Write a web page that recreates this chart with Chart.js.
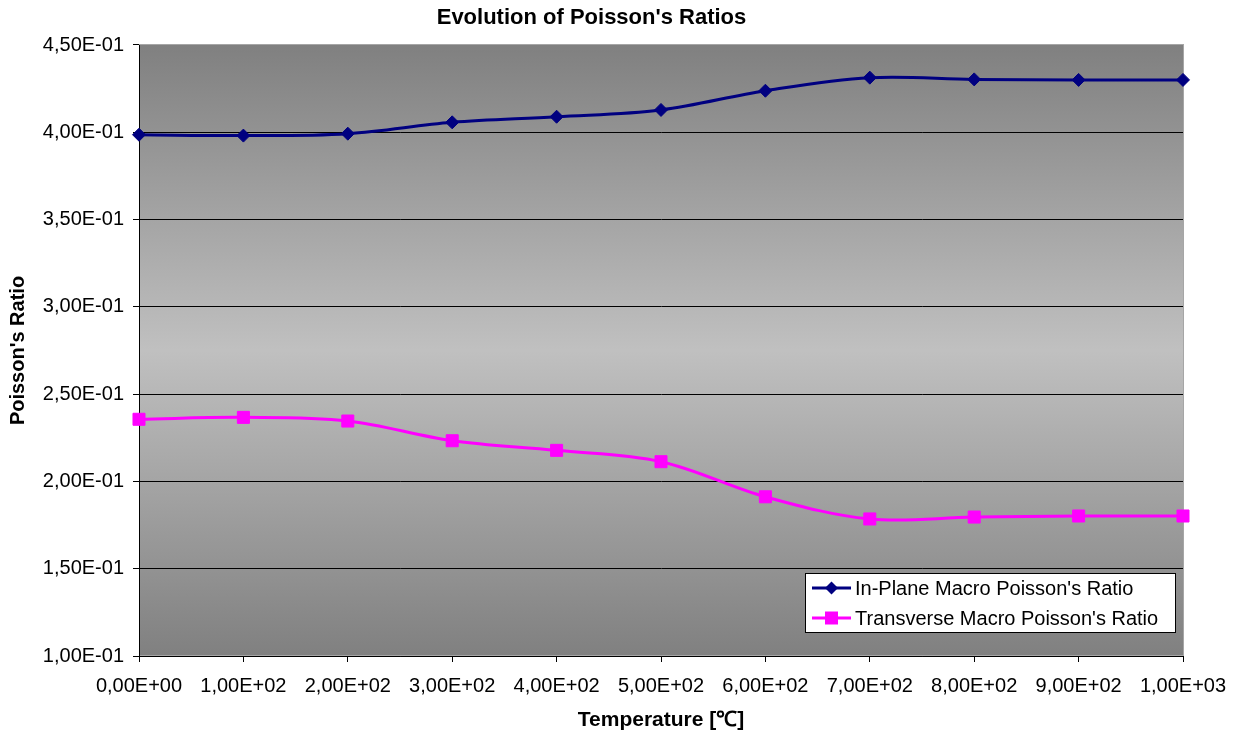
<!DOCTYPE html>
<html>
<head>
<meta charset="utf-8">
<script src="https://cdn.jsdelivr.net/npm/chart.js@4.4.1/dist/chart.umd.min.js"></script>
<style>
  body { margin: 0; background: #fff; }
  #wrap { width: 1240px; height: 736px; }
</style>
</head>
<body>
<div id="wrap"><canvas id="myChart" width="1240" height="736"></canvas></div>
<script>
const temperatures = [0, 100, 200, 300, 400, 500, 600, 700, 800, 900, 1000];
const inPlaneRatio = [0.3986, 0.3981, 0.3992, 0.4057, 0.4089, 0.4128, 0.4238, 0.4313, 0.4303, 0.4300, 0.4300];
const transverseRatio = [0.2356, 0.2367, 0.2346, 0.2233, 0.2178, 0.2113, 0.1912, 0.1785, 0.1796, 0.1802, 0.1802];
const xTickLabels = ["0,00E+00", "1,00E+02", "2,00E+02", "3,00E+02", "4,00E+02", "5,00E+02",
  "6,00E+02", "7,00E+02", "8,00E+02", "9,00E+02", "1,00E+03"];
const yTickLabels = ["1,00E-01", "1,50E-01", "2,00E-01", "2,50E-01", "3,00E-01", "3,50E-01", "4,00E-01", "4,50E-01"];

const fontFamily = "'Liberation Sans', Arial, sans-serif";
const inPlaneColor = "#000080";
const transverseColor = "#FF00FF";

function toPoints(values) {
  return temperatures.map(function (t, i) {
    return { x: t, y: values[i] };
  });
}

// gray gradient behind the plot area
const plotBackground = {
  id: "plotBackground",
  beforeDraw(chart) {
    const { ctx, chartArea } = chart;
    const g = ctx.createLinearGradient(0, chartArea.top, 0, chartArea.bottom);
    g.addColorStop(0, "#808080");
    g.addColorStop(0.5, "#c0c0c0");
    g.addColorStop(1, "#808080");
    ctx.save();
    ctx.fillStyle = g;
    ctx.fillRect(chartArea.left, chartArea.top, chartArea.right - chartArea.left, chartArea.bottom - chartArea.top);
    ctx.strokeStyle = "#a6a6a6";
    ctx.lineWidth = 1;
    ctx.strokeRect(chartArea.left + 0.5, chartArea.top - 0.5, chartArea.right - chartArea.left, chartArea.bottom - chartArea.top);
    ctx.restore();
  }
};

function drawMarker(ctx, style, x, y, color) {
  ctx.fillStyle = color;
  ctx.beginPath();
  if (style === "rectRot") {
    ctx.moveTo(x, y - 6.5);
    ctx.lineTo(x + 6.5, y);
    ctx.lineTo(x, y + 6.5);
    ctx.lineTo(x - 6.5, y);
    ctx.closePath();
  } else {
    ctx.rect(x - 6.5, y - 6.5, 13, 13);
  }
  ctx.fill();
}

// boxed legend inside the plot, bottom right
const boxLegend = {
  id: "boxLegend",
  afterDraw(chart) {
    const ctx = chart.ctx;
    const left = 805, top = 573, width = 370, height = 59;
    ctx.save();
    ctx.fillStyle = "#ffffff";
    ctx.fillRect(left, top, width, height);
    ctx.strokeStyle = "#000000";
    ctx.lineWidth = 1;
    ctx.strokeRect(left + 0.5, top + 0.5, width, height);
    ctx.font = "20px " + fontFamily;
    ctx.textBaseline = "middle";
    chart.data.datasets.forEach(function (ds, i) {
      const y = top + 15 + i * 30;
      ctx.strokeStyle = ds.borderColor;
      ctx.lineWidth = 3;
      ctx.beginPath();
      ctx.moveTo(812, y);
      ctx.lineTo(851, y);
      ctx.stroke();
      drawMarker(ctx, ds.pointStyle, 831.5, y, ds.borderColor);
      ctx.fillStyle = "#000000";
      ctx.fillText(ds.label, 855, y + 1);
    });
    ctx.restore();
  }
};

const ctx = document.getElementById("myChart").getContext("2d");
const myChart = new Chart(ctx, {
  type: "line",
  data: {
    datasets: [
      {
        label: "In-Plane Macro Poisson's Ratio",
        data: toPoints(inPlaneRatio),
        borderColor: inPlaneColor,
        backgroundColor: inPlaneColor,
        borderWidth: 3,
        pointStyle: "rectRot",
        pointRadius: 6.5,
        pointBorderWidth: 1,
        tension: 0.35,
        clip: false
      },
      {
        label: "Transverse Macro Poisson's Ratio",
        data: toPoints(transverseRatio),
        borderColor: transverseColor,
        backgroundColor: transverseColor,
        borderWidth: 3,
        pointStyle: "rect",
        pointRadius: 8.5,
        pointBorderWidth: 1,
        tension: 0.35,
        clip: false
      }
    ]
  },
  options: {
    responsive: false,
    animation: false,
    devicePixelRatio: 1,
    layout: { padding: { left: 0, right: 57, top: 0, bottom: 0 } },
    plugins: {
      legend: { display: false },
      tooltip: { enabled: false },
      title: {
        display: true,
        text: "Evolution of Poisson's Ratios",
        color: "#000",
        font: { family: fontFamily, size: 22, weight: "bold" },
        padding: { top: 5, bottom: 13.6 }
      }
    },
    scales: {
      x: {
        type: "linear",
        min: 0,
        max: 1000,
        afterFit(scale) { scale.height = 80; },
        afterBuildTicks(scale) {
          scale.ticks = temperatures.map(function (t) { return { value: t }; });
        },
        ticks: {
          color: "#000",
          font: { family: fontFamily, size: 20 },
          padding: 12,
          maxRotation: 0,
          autoSkip: false,
          callback: function (value, index) { return xTickLabels[index]; }
        },
        grid: { drawOnChartArea: false, drawTicks: true, tickLength: 6, tickColor: "#000" },
        border: { color: "#000", width: 1 },
        title: {
          display: true,
          text: "Temperature [℃]",
          color: "#000",
          font: { family: fontFamily, size: 21, weight: "bold" },
          padding: { top: 0, bottom: 3.5 }
        }
      },
      y: {
        min: 0.1,
        max: 0.45,
        afterFit(scale) { scale.width = 139; },
        afterBuildTicks(scale) {
          scale.ticks = yTickLabels.map(function (l, i) { return { value: 0.1 + i * 0.05 }; });
        },
        ticks: {
          color: "#000",
          font: { family: fontFamily, size: 20 },
          padding: 9,
          callback: function (value, index) { return yTickLabels[index]; }
        },
        grid: {
          color: function (c) { return c.index === yTickLabels.length - 1 ? "rgba(0,0,0,0)" : "#000"; },
          tickColor: "#000",
          tickLength: 6
        },
        border: { color: "#000", width: 1 },
        title: {
          display: true,
          text: "Poisson's Ratio",
          color: "#000",
          font: { family: fontFamily, size: 20, weight: "bold" },
          padding: { top: 6, bottom: 0 }
        }
      }
    }
  },
  plugins: [plotBackground, boxLegend]
});
</script>
</body>
</html>
